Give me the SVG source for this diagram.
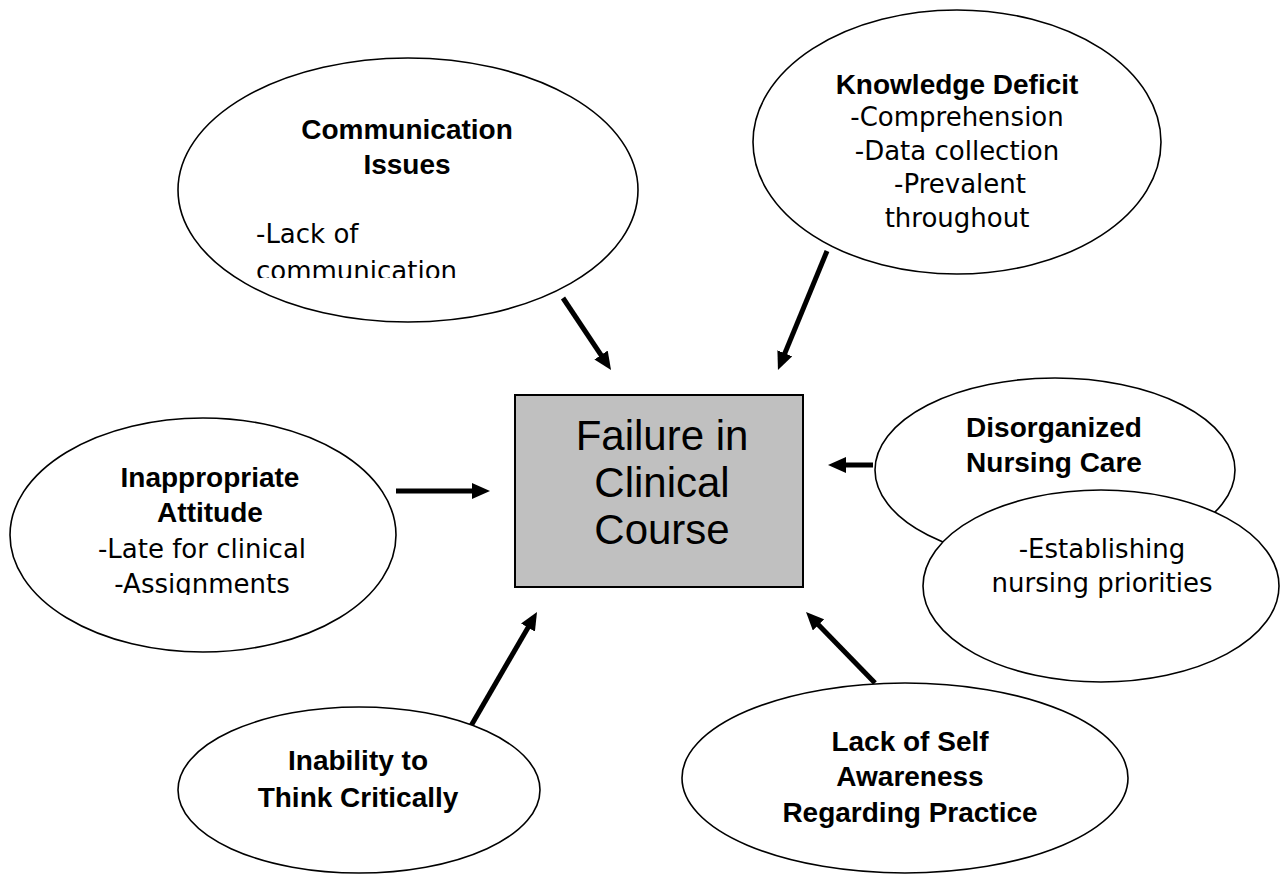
<svg xmlns="http://www.w3.org/2000/svg" width="1281" height="875" viewBox="0 0 1281 875">
<style>
.el{fill:#fff;stroke:#000;stroke-width:1.6}
.hd{font-family:"Liberation Sans",Arial,sans-serif;font-weight:700;font-size:28px;fill:#000;text-anchor:middle}
.bd{font-family:"DejaVu Sans","Liberation Sans",sans-serif;font-weight:400;font-size:26px;fill:#000;text-anchor:middle}
.ctr{font-family:"Liberation Sans",Arial,sans-serif;font-size:42px;fill:#000;text-anchor:middle}
.ar{stroke:#000;stroke-width:5;fill:none;marker-end:url(#ah)}
</style>
<defs>
<marker id="ah" markerUnits="userSpaceOnUse" markerWidth="18" markerHeight="16" viewBox="0 0 18 16" refX="10" refY="8" orient="auto"><path d="M0,0 L18,8 L0,16 z" fill="#000"/></marker>
<clipPath id="cComm"><rect x="170" y="40" width="480" height="238"/></clipPath>
<clipPath id="cAtt"><rect x="0" y="400" width="420" height="195"/></clipPath>
</defs>
<rect width="1281" height="875" fill="#fff"/>
<g id="connectors">
<path class="ar" d="M563,298 L606.6,363.3"/>
<path class="ar" d="M827,251 L781,362.6"/>
<path class="ar" d="M396,491 L482,491"/>
<path class="ar" d="M873,465 L836,465"/>
<path class="ar" d="M468,731 L533,618.9"/>
<path class="ar" d="M875,683 L811.6,617.7"/>
</g>
<g id="communication">
<ellipse class="el" cx="408" cy="190" rx="230" ry="132"/>
<text class="hd" x="407" y="139">Communication</text>
<text class="hd" x="407" y="174">Issues</text>
<g clip-path="url(#cComm)">
<text class="bd" x="256" y="243" style="text-anchor:start">-Lack of</text>
<text class="bd" x="256" y="280" style="text-anchor:start">communication</text>
</g>
</g>
<g id="knowledge">
<ellipse class="el" cx="957" cy="142" rx="204" ry="132"/>
<text class="hd" x="957" y="94">Knowledge Deficit</text>
<text class="bd" x="957" y="126">-Comprehension</text>
<text class="bd" x="957" y="160">-Data collection</text>
<text class="bd" x="960" y="193">-Prevalent</text>
<text class="bd" x="957" y="227">throughout</text>
</g>
<g id="center">
<rect x="515" y="395" width="288" height="192" fill="#c0c0c0" stroke="#000" stroke-width="2"/>
<text class="ctr" x="662" y="450">Failure in</text>
<text class="ctr" x="662" y="497">Clinical</text>
<text class="ctr" x="662" y="544">Course</text>
</g>
<g id="attitude">
<ellipse class="el" cx="203" cy="535" rx="193" ry="117"/>
<text class="hd" x="210" y="487">Inappropriate</text>
<text class="hd" x="210" y="522">Attitude</text>
<g clip-path="url(#cAtt)">
<text class="bd" x="202" y="558">-Late for clinical</text>
<text class="bd" x="202" y="593">-Assignments</text>
</g>
</g>
<g id="disorganized">
<ellipse class="el" cx="1055" cy="470" rx="180" ry="92"/>
<text class="hd" x="1054" y="437">Disorganized</text>
<text class="hd" x="1054" y="472">Nursing Care</text>
</g>
<g id="priorities">
<ellipse class="el" cx="1101" cy="586" rx="178" ry="96"/>
<text class="bd" x="1102" y="558">-Establishing</text>
<text class="bd" x="1102" y="592">nursing priorities</text>
</g>
<g id="inability">
<ellipse class="el" cx="359" cy="790" rx="181" ry="83"/>
<text class="hd" x="358" y="770">Inability to</text>
<text class="hd" x="358" y="807">Think Critically</text>
</g>
<g id="selfawareness">
<ellipse class="el" cx="905" cy="778" rx="223" ry="95"/>
<text class="hd" x="910" y="751">Lack of Self</text>
<text class="hd" x="910" y="786">Awareness</text>
<text class="hd" x="910" y="822">Regarding Practice</text>
</g>
</svg>
